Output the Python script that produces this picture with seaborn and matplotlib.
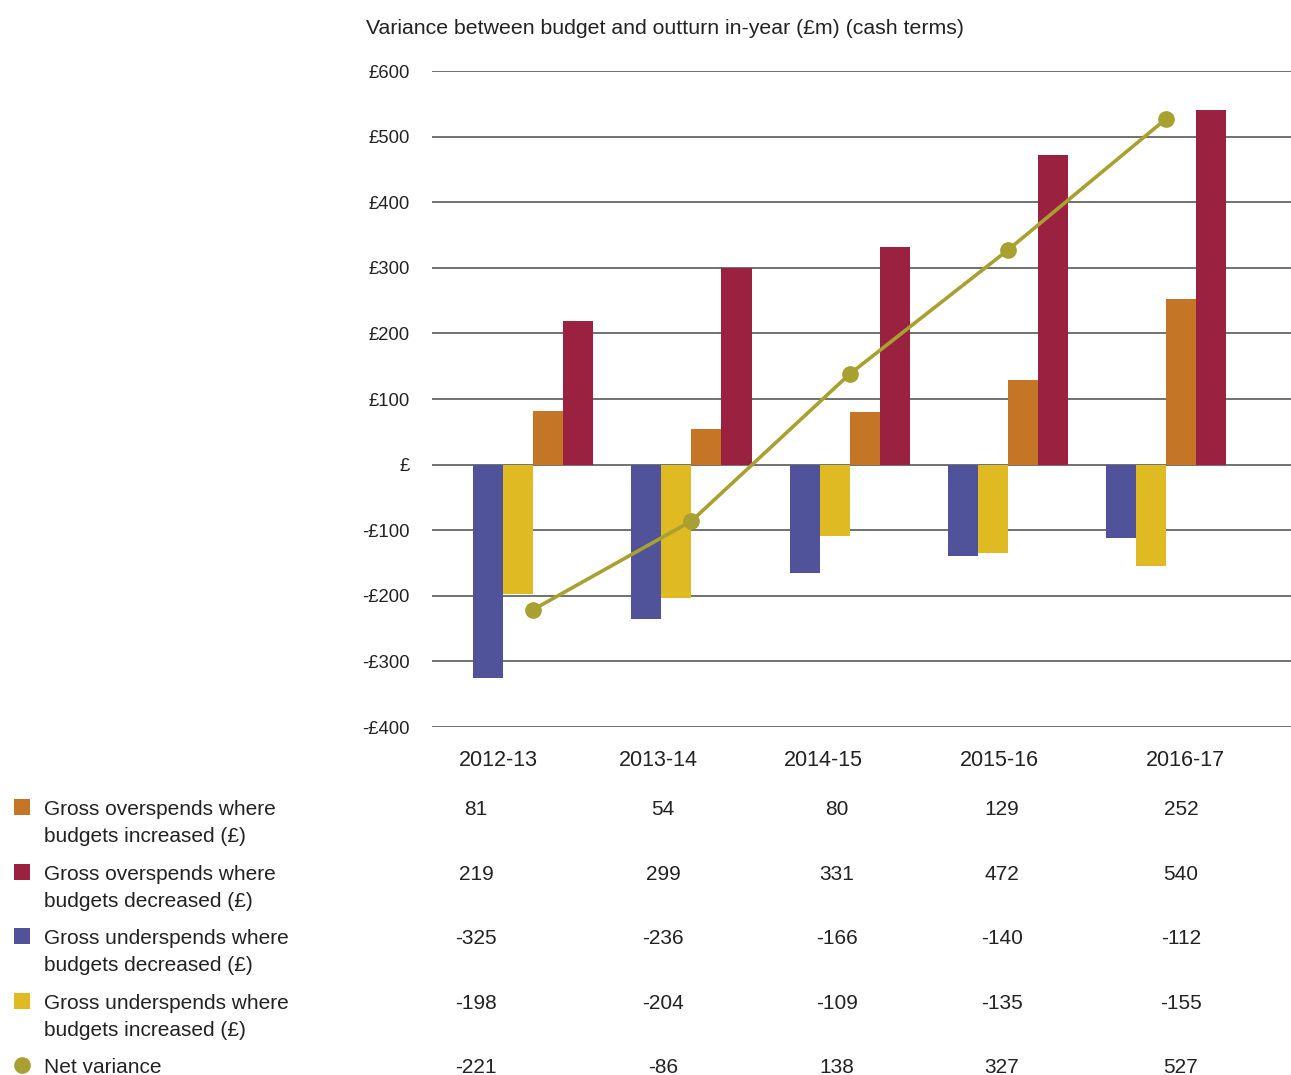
import matplotlib
matplotlib.use("Agg")
import matplotlib.pyplot as plt
from matplotlib.patches import Rectangle
from matplotlib.lines import Line2D
import seaborn as sns
import pandas as pd

# ---- data (£m, cash terms) ----
years = ["2012-13", "2013-14", "2014-15", "2015-16", "2016-17"]
over_increased = [81, 54, 80, 129, 252]
over_decreased = [219, 299, 331, 472, 540]
under_decreased = [-325, -236, -166, -140, -112]
under_increased = [-198, -204, -109, -135, -155]
net_variance = [-221, -86, 138, 327, 527]

y_ticks = [600, 500, 400, 300, 200, 100, 0, -100, -200, -300, -400]
y_tick_labels = ["£600", "£500", "£400", "£300", "£200", "£100", "£",
                 "-£100", "-£200", "-£300", "-£400"]

series_names = [
    "Gross overspends where\nbudgets increased (£)",
    "Gross overspends where\nbudgets decreased (£)",
    "Gross underspends where\nbudgets decreased (£)",
    "Gross underspends where\nbudgets increased (£)",
]
series_values = [over_increased, over_decreased, under_decreased, under_increased]
net_name = "Net variance"

colors = {
    series_names[0]: "#C47626",
    series_names[1]: "#9B2140",
    series_names[2]: "#50529A",
    series_names[3]: "#E0BA22",
}
net_color = "#A9A032"
text_color = "#222222"

# bar order within each year group
bar_order = [series_names[2], series_names[3], series_names[0], series_names[1]]

df = pd.DataFrame(
    [(y, name, v) for name, vals in zip(series_names, series_values)
     for y, v in zip(years, vals)],
    columns=["year", "series", "value"],
)

sns.set_theme(style="white")
plt.rcParams["font.family"] = ["Liberation Sans", "DejaVu Sans"]

W, H = 1291, 1075
fig = plt.figure(figsize=(W / 100, H / 100), dpi=100)
ax = fig.add_axes([432 / W, 1 - 727 / H, (W - 432) / W, (727 - 71) / H])

sns.barplot(
    data=df, x="year", y="value", hue="series", order=years,
    hue_order=bar_order, palette=colors, width=0.76, saturation=1,
    dodge=True, legend=False, ax=ax, zorder=3,
)
for p in ax.patches:
    p.set_edgecolor("none")

ax.plot(range(len(years)), net_variance, color=net_color, lw=2.6,
        marker="o", markersize=11, zorder=5, solid_capstyle="round")

ax.set_ylim(-400, 600)
ax.set_xlim(-0.64, 4.79)
ax.set_yticks(y_ticks)
ax.set_yticklabels(y_tick_labels, fontsize=13.3, color=text_color)
ax.tick_params(axis="y", length=0, pad=16)
ax.set_xticks([])
ax.set_xlabel("")
ax.set_ylabel("")
for s in ax.spines.values():
    s.set_visible(False)
ax.grid(axis="y", color="#4a4a4a", lw=1.1, zorder=0)
ax.set_axisbelow(True)

fig.text(366 / W, 1 - 28 / H,
         "Variance between budget and outturn in-year (£m) (cash terms)",
         fontsize=15.3, color=text_color, ha="left", va="center")

# year labels under the plot area
year_x = [498, 658, 823, 999, 1185]
for x, y in zip(year_x, years):
    fig.text(x / W, 1 - 760 / H, y, fontsize=15.5, color=text_color,
             ha="center", va="center")

# data table with legend keys
value_x = [476, 663, 837, 1002, 1181]
row_y = [808, 873, 937, 1002, 1066]
line_gap = 27
baseline_drop = 7
table_rows = [
    (series_names[0], over_increased, "square"),
    (series_names[1], over_decreased, "square"),
    (series_names[2], under_decreased, "square"),
    (series_names[3], under_increased, "square"),
    (net_name, net_variance, "circle"),
]
for (name, vals, kind), ry in zip(table_rows, row_y):
    if kind == "square":
        fig.add_artist(Rectangle((14 / W, 1 - (ry + 7) / H), 16 / W, 16 / H,
                                 transform=fig.transFigure,
                                 color=colors[name], lw=0))
    else:
        fig.add_artist(Line2D([22 / W], [1 - (ry - 1) / H], marker="o",
                              markersize=11, color=net_color, lw=0,
                              transform=fig.transFigure))
    for i, line in enumerate(name.split("\n")):
        fig.text(44 / W, 1 - (ry + baseline_drop + i * line_gap) / H, line,
                 fontsize=15, color=text_color, ha="left", va="baseline")
    for x, v in zip(value_x, vals):
        fig.text(x / W, 1 - (ry + baseline_drop) / H, f"{v}", fontsize=15,
                 color=text_color, ha="center", va="baseline")

fig.savefig("out.png", dpi=100)
